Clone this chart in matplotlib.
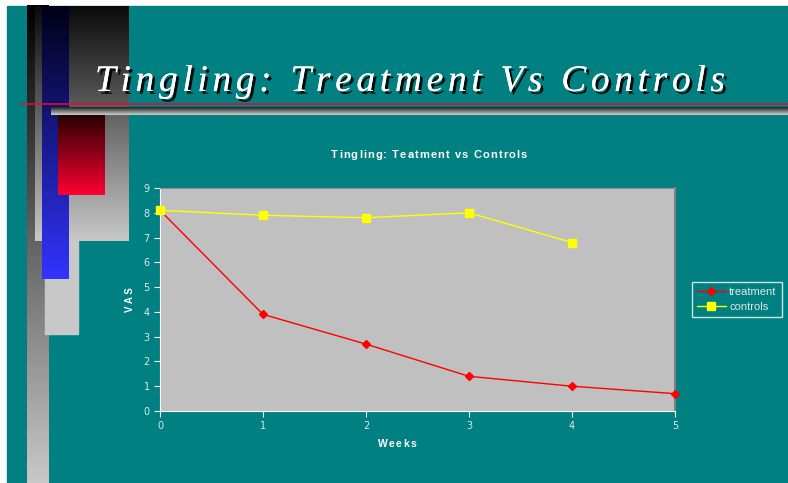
import matplotlib
matplotlib.use("Agg")
import matplotlib.pyplot as plt
import matplotlib.patheffects as pe
from matplotlib.font_manager import FontProperties
import numpy as np

weeks = [0, 1, 2, 3, 4, 5]
treatment = [8.1, 3.9, 2.7, 1.4, 1.0, 0.7]
control_weeks = [0, 1, 2, 3, 4]
controls = [8.1, 7.9, 7.8, 8.0, 6.8]
y_ticks = list(range(0, 10))

TEAL = "#008080"
W, H = 788, 483


def vgrad(ax, x0, x1, y0, y1, top, bottom):
    """Vertical colour ramp from `top` to `bottom` inside a pixel box."""
    c0 = np.array(matplotlib.colors.to_rgb(top))
    c1 = np.array(matplotlib.colors.to_rgb(bottom))
    t = np.linspace(0, 1, 256)[:, None, None]
    img = c0 + (c1 - c0) * t
    ax.imshow(img, extent=(x0, x1, y1, y0), aspect="auto", interpolation="bilinear", zorder=2)


def spaced_text(ax, x0, x1, y, s, fp, **kw):
    """Lay out s char by char so it fills x0..x1 (pixel coords), baseline at y."""
    r = ax.figure.canvas.get_renderer()
    widths = [r.get_text_width_height_descent(c, fp, ismath=False)[0] for c in s]
    gap = ((x1 - x0) - sum(widths)) / (len(s) - 1)
    x = x0
    for c, w in zip(s, widths):
        ax.text(x, y, c, fontproperties=fp, ha="left", va="baseline", **kw)
        x += w + gap


fig = plt.figure(figsize=(W / 100, H / 100), dpi=100)
fig.patch.set_facecolor("white")

# slide background and the decorative blocks
bg = fig.add_axes([0, 0, 1, 1])
bg.set_xlim(0, W)
bg.set_ylim(H, 0)
bg.axis("off")
bg.add_patch(plt.Rectangle((7, 6), W - 7, H - 6, color=TEAL, zorder=1))

vgrad(bg, 27, 49, 5, H, "#000000", "#c8c8c8")
vgrad(bg, 35, 129, 6, 241, "#0a0a0a", "#c8c8c8")
bg.add_patch(plt.Rectangle((45, 241), 33, 93, color="#c8c8c8", zorder=2))
vgrad(bg, 42, 69, 6, 279, "#000018", "#3333ff")
vgrad(bg, 51, W, 107, 115, "#202020", "#d0d0d0")
vgrad(bg, 58, 105, 115, 195, "#2a0000", "#ff0033")
bg.plot([21, W], [104, 104], color="#d8103c", lw=1.2, zorder=3)

title_fp = FontProperties(family="Liberation Serif", style="italic", size=27)
spaced_text(bg, 95, 725, 91, "Tingling: Treatment Vs Controls", title_fp, color="white", zorder=4,
            path_effects=[pe.withSimplePatchShadow(offset=(2, -2), shadow_rgbFace="black", alpha=0.9),
                          pe.Normal()])

sans_bold = FontProperties(family="Liberation Sans", weight="bold", size=8)
spaced_text(bg, 331, 527, 158, "Tingling: Teatment vs Controls", sans_bold, color="white", zorder=4)
spaced_text(bg, 378, 416, 447, "Weeks", FontProperties(family="Liberation Sans", weight="bold", size=7.5),
            color="white", zorder=4)

# chart
ax = fig.add_axes([160 / W, (H - 411) / H, 515 / W, 223 / H])
ax.set_facecolor("#c0c0c0")
ax.plot(weeks, treatment, color="red", lw=1, marker="D", ms=4, label="treatment", clip_on=False, zorder=3)
ax.plot(control_weeks, controls, color="yellow", lw=1, marker="s", ms=6, label="controls", clip_on=False, zorder=3)
ax.set_xlim(0, 5)
ax.set_ylim(0, 9)
ax.set_yticks(y_ticks)
ax.set_xticks(weeks)
ax.spines["left"].set_color("white")
ax.spines["bottom"].set_color("white")
ax.spines["right"].set_color("#808080")
ax.spines["right"].set_linewidth(1.5)
ax.spines["top"].set_color("#909090")
ax.tick_params(colors="white", labelcolor="#e0e8e8", labelsize=7, length=4, direction="out")
ax.tick_params(axis="x", pad=3)

fig.text(130 / W, 1 - 300 / H, "V A S", color="white", rotation=90,
         family="Liberation Sans", weight="bold", fontsize=7, ha="center", va="center")

leg = ax.legend(loc="center left", bbox_to_anchor=(1.033, 0.5), frameon=True, fancybox=False,
                prop={"family": "Liberation Sans", "size": 8}, handlelength=2.6, handletextpad=0.3,
                borderpad=0.45, labelspacing=0.45, borderaxespad=0)
leg.get_frame().set_facecolor(TEAL)
leg.get_frame().set_edgecolor("white")
for t in leg.get_texts():
    t.set_color("#e0e8e8")

fig.savefig("out.png", dpi=100, facecolor="white")
